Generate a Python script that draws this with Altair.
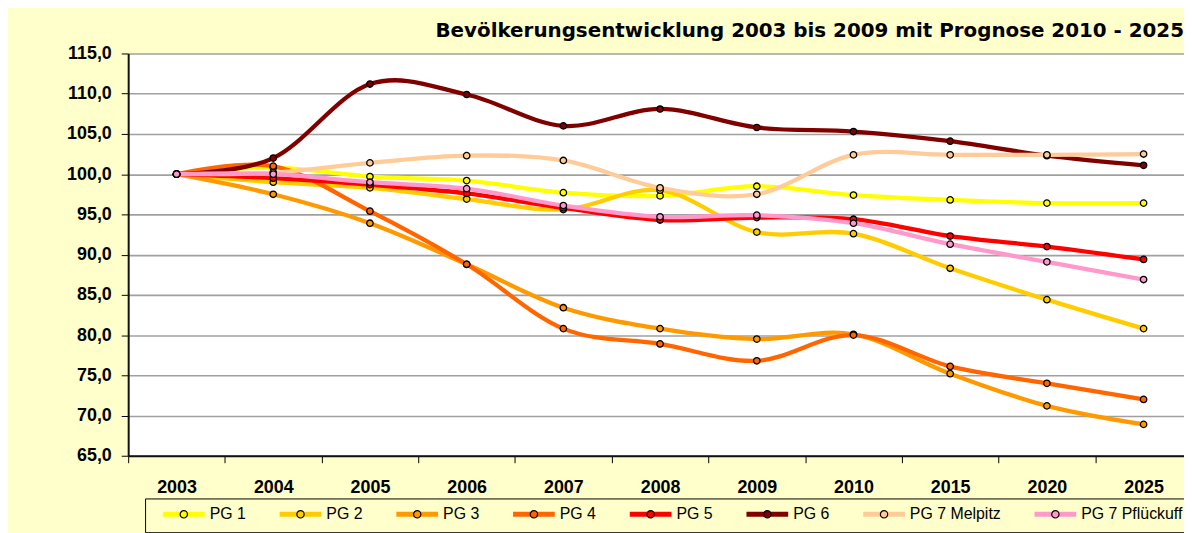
import altair as alt
import pandas as pd

years = ["2003", "2004", "2005", "2006", "2007", "2008", "2009", "2010", "2015", "2020", "2025"]
series = ["PG 1", "PG 2", "PG 3", "PG 4", "PG 5", "PG 6", "PG 7 Melpitz", "PG 7 Pflückuff"]
colors = ["#FFFF00", "#FFCC00", "#FF9900", "#FF6600", "#FF0000", "#800000", "#FFCC99", "#FF99CC"]

pg1 = [100.0, 100.8, 99.7, 99.2, 97.7, 97.3, 98.5, 97.4, 96.8, 96.4, 96.4]
pg2 = [100.0, 99.0, 98.3, 96.9, 95.6, 98.0, 92.8, 92.6, 88.3, 84.4, 80.8]
pg3 = [100.0, 97.5, 93.9, 88.8, 83.4, 80.8, 79.5, 80.1, 75.2, 71.2, 68.9]
pg4 = [100.0, 101.0, 95.4, 88.8, 80.8, 78.9, 76.8, 80.0, 76.1, 74.0, 72.0]
pg5 = [100.0, 99.5, 98.7, 97.6, 95.8, 94.3, 94.6, 94.4, 92.3, 91.0, 89.4]
pg6 = [100.0, 102.0, 111.2, 109.9, 106.0, 108.1, 105.8, 105.3, 104.1, 102.3, 101.1]
pg7_melpitz = [100.0, 100.2, 101.4, 102.3, 101.7, 98.3, 97.5, 102.4, 102.4, 102.4, 102.5]
pg7_pflueckuff = [100.0, 100.0, 99.0, 98.2, 96.1, 94.7, 94.9, 93.9, 91.3, 89.1, 86.9]

y_ticks = [65, 70, 75, 80, 85, 90, 95, 100, 105, 110, 115]

all_values = [pg1, pg2, pg3, pg4, pg5, pg6, pg7_melpitz, pg7_pflueckuff]
rows = []
for name, vals in zip(series, all_values):
    for yr, v in zip(years, vals):
        rows.append({"Jahr": yr, "Wert": v, "Reihe": name, "Reihe2": name})
df = pd.DataFrame(rows)

LINE_PATH = "M0.364,0L8,0"
CIRCLE_PATH = "M4.85,0A0.67,0.67,0,1,1,3.51,0A0.67,0.67,0,1,1,4.85,0Z"

x_enc = alt.X(
    "Jahr:N",
    sort=years,
    scale=alt.Scale(range=[0, 1071], paddingInner=0, paddingOuter=0),
    axis=alt.Axis(
        title=None,
        labelAngle=0,
        labelFont="Liberation Sans",
        labelFontSize=18,
        labelFontWeight="bold",
        labelColor="black",
        labelPadding=16,
        tickBand="extent",
        tickSize=7,
        tickColor="black",
        tickWidth=1,
        domainColor="#111111",
        domainWidth=2,
        grid=False,
    ),
)
y_enc = alt.Y(
    "Wert:Q",
    scale=alt.Scale(domain=[65, 115], nice=False, zero=False),
    axis=alt.Axis(
        title=None,
        values=y_ticks,
        labelExpr="replace(format(datum.value, '.1f'), '.', ',')",
        labelFont="Liberation Sans",
        labelFontSize=18,
        labelFontWeight="bold",
        labelColor="black",
        labelPadding=10,
        tickSize=7,
        tickColor="black",
        tickWidth=1,
        domainColor="#111111",
        domainWidth=2,
        grid=True,
        gridColor="#A0A0A0",
        gridWidth=1.6,
    ),
)

common_legend = dict(
    orient="none",
    legendX=17,
    legendY=448,
    direction="horizontal",
    title=None,
    symbolSize=121,
    labelFont="Liberation Sans",
    labelFontSize=16,
    labelColor="black",
    labelOffset=41,
    columnPadding=23.5,
    padding=8,
    labelLimit=300,
)

lines = alt.Chart(df).mark_line(interpolate="cardinal", strokeWidth=4.3).encode(
    x=x_enc,
    y=y_enc,
    color=alt.Color(
        "Reihe:N",
        sort=series,
        scale=alt.Scale(domain=series, range=colors),
        legend=alt.Legend(
            symbolType=LINE_PATH,
            symbolStrokeWidth=5,
            strokeColor="black",
            **common_legend,
        ),
    ),
    detail="Reihe:N",
)

points = alt.Chart(df).mark_point(
    filled=True, shape="circle", size=42, stroke="black", strokeWidth=1.3, opacity=1
).encode(
    x=x_enc,
    y=y_enc,
    fill=alt.Fill(
        "Reihe2:N",
        sort=series,
        scale=alt.Scale(domain=series, range=colors),
        legend=alt.Legend(
            symbolType=CIRCLE_PATH,
            symbolStrokeWidth=1.2,
            symbolStrokeColor="black",
            labelOpacity=0,
            **common_legend,
        ),
    ),
)

chart = (
    alt.layer(lines, points)
    .properties(
        width=1063,
        height=405,
        background="#FFFFCC",
        padding={"left": 121, "top": 44, "right": 0, "bottom": 76},
        autosize=alt.AutoSizeParams(type="none"),
        title=alt.TitleParams(
            "Bevölkerungsentwicklung 2003 bis 2009 mit Prognose 2010 - 2025",
            anchor="end",
            frame="group",
            font="DejaVu Sans",
            fontSize=20,
            fontWeight="bold",
            color="black",
            offset=4,
        ),
    )
    .resolve_scale(color="independent", fill="independent")
    .configure(font="Liberation Sans")
    .configure_view(fill="white", stroke="transparent")
)

chart.save("out.html", embed_options={"renderer": "svg", "actions": False})
